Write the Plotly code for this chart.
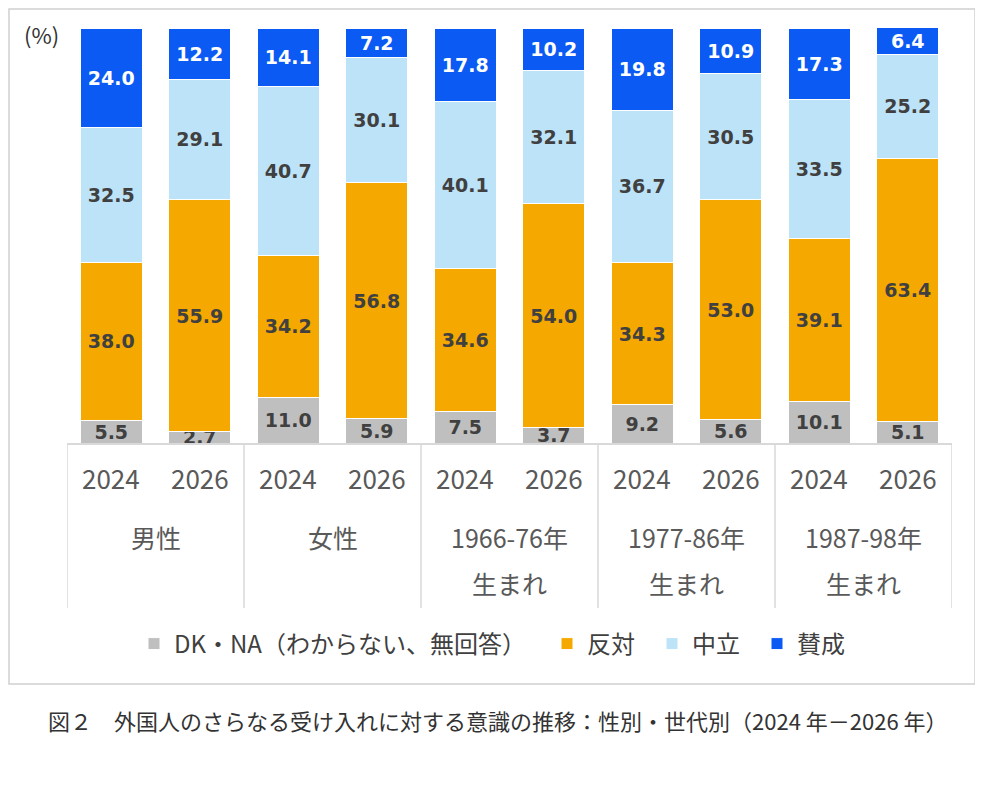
import plotly.graph_objects as go

groups = ["男性", "女性", "1966-76年", "1977-86年", "1987-98年"]
group_line2 = ["", "", "生まれ", "生まれ", "生まれ"]
years = ["2024", "2026"]
categories = [f"{g} {y}" for g in groups for y in years]

dk = [5.5, 2.7, 11.0, 5.9, 7.5, 3.7, 9.2, 5.6, 10.1, 5.1]
hantai = [38.0, 55.9, 34.2, 56.8, 34.6, 54.0, 34.3, 53.0, 39.1, 63.4]
churitsu = [32.5, 29.1, 40.7, 30.1, 40.1, 32.1, 36.7, 30.5, 33.5, 25.2]
sansei = [24.0, 12.2, 14.1, 7.2, 17.8, 10.2, 19.8, 10.9, 17.3, 6.4]

series = [
    ("DK・NA（わからない、無回答）", dk, "#BFBFBF", "#404040", "legend"),
    ("反対", hantai, "#F5A800", "#404040", "legend2"),
    ("中立", churitsu, "#BDE3F8", "#404040", "legend2"),
    ("賛成", sansei, "#0A5AF3", "#FFFFFF", "legend2"),
]

fig = go.Figure()
for name, vals, color, tcolor, lg in series:
    fig.add_trace(go.Bar(
        x=categories, y=vals, name=name, legend=lg,
        marker=dict(color=color, line=dict(color="#FFFFFF", width=1)),
        text=[f"{v:.1f}" for v in vals],
        textposition="inside", insidetextanchor="middle",
        textfont=dict(family="DejaVu Sans", size=19, color=tcolor, weight="bold"),
        constraintext="none",
    ))

# page body has an 8px offset; work in reference pixel coordinates
OFF = 8
PL, PR, PT, PB = 67, 952, 28, 443
plot_h = float(PB - PT)
plot_w = float(PR - PL)

def py(pix):  # reference pixel y -> paper coordinate
    return (PB - pix) / plot_h

def px(pix):
    return (pix - PL) / plot_w

label_font = dict(family="Noto Sans CJK JP", size=26, color="#595959")
group_font = dict(family="Noto Sans CJK JP", size=25, color="#595959")

annotations = []
for i, c in enumerate(categories):
    annotations.append(dict(x=c, y=py(477), xref="x", yref="paper", text=years[i % 2],
                            showarrow=False, font=label_font, xanchor="center", yanchor="middle"))
for gi, g in enumerate(groups):
    xc = gi * 2 + 0.5
    annotations.append(dict(x=xc, y=py(537), xref="x", yref="paper", text=g,
                            showarrow=False, font=group_font, xanchor="center", yanchor="middle"))
    if group_line2[gi]:
        annotations.append(dict(x=xc, y=py(583), xref="x", yref="paper", text=group_line2[gi],
                                showarrow=False, font=group_font, xanchor="center", yanchor="middle"))

annotations.append(dict(x=px(22), y=py(34), xref="paper", yref="paper", text="(%)",
                        showarrow=False, font=dict(family="Noto Sans CJK JP", size=22, color="#333333"),
                        xanchor="left", yanchor="middle"))
annotations.append(dict(x=px(46), y=py(720), xref="paper", yref="paper",
                        text="図２　外国人のさらなる受け入れに対する意識の推移：性別・世代別（2024 年－2026 年）",
                        showarrow=False, font=dict(family="Noto Sans CJK JP", size=22, color="#333333"),
                        xanchor="left", yanchor="middle"))

shapes = []
for k in range(len(groups) + 1):
    xb = k * 2 - 0.5
    shapes.append(dict(type="line", xref="x", yref="paper", x0=xb, x1=xb, y0=0, y1=py(608),
                       line=dict(color="#D9D9D9", width=1.5)))
shapes.append(dict(type="rect", xref="paper", yref="paper", x0=px(9), x1=px(975), y0=py(684), y1=py(9),
                   line=dict(color="#D0D0D0", width=1.5), fillcolor="rgba(0,0,0,0)", layer="below"))

legend_font = dict(family="Noto Sans CJK JP", size=24, color="#404040")

W, H = 983 - OFF, 796 - OFF
fig.update_layout(
    barmode="stack",
    bargap=0.3,
    width=W, height=H,
    margin=dict(l=PL - OFF, r=W - (PR - OFF), t=PT - OFF, b=H - (PB - OFF)),
    paper_bgcolor="white", plot_bgcolor="white",
    showlegend=True,
    legend=dict(orientation="h", x=px(134), xanchor="left", y=py(644), yanchor="middle",
                font=legend_font, itemwidth=30),
    legend2=dict(orientation="h", x=px(547), xanchor="left", y=py(644), yanchor="middle",
                 font=legend_font, itemwidth=30, entrywidth=60, traceorder="normal"),
    uniformtext=dict(minsize=19, mode="show"),
    xaxis=dict(showticklabels=False, ticks="", showline=True, linecolor="#D9D9D9", linewidth=1.5,
               showgrid=False, range=[-0.5, 9.5], fixedrange=True),
    yaxis=dict(range=[0, 100], showticklabels=False, showgrid=False, zeroline=False, ticks=""),
    annotations=annotations,
    shapes=shapes,
)

fig.write_html("out.html")
